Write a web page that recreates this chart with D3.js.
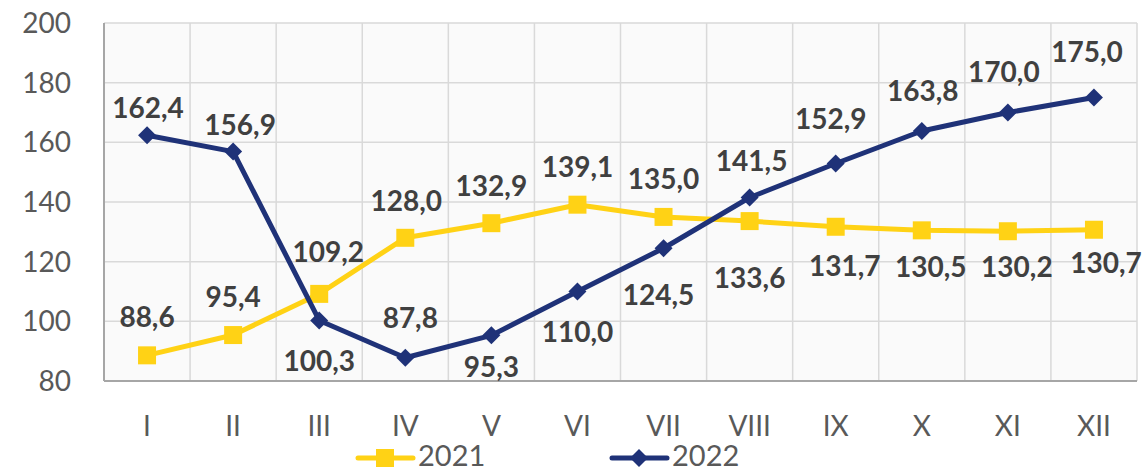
<!DOCTYPE html>
<html>
<head>
<meta charset="utf-8">
<script src="https://cdn.jsdelivr.net/npm/d3@7"></script>
<style>
  body { margin: 0; background: #fff; }
  text { font-family: Lato, "Open Sans", sans-serif; }
</style>
</head>
<body>
<div id="chart"></div>
<script>
// data
const months = ["I", "II", "III", "IV", "V", "VI", "VII", "VIII", "IX", "X", "XI", "XII"];
const values2021 = [88.6, 95.4, 109.2, 128.0, 132.9, 139.1, 135.0, 133.6, 131.7, 130.5, 130.2, 130.7];
const values2022 = [162.4, 156.9, 100.3, 87.8, 95.3, 110.0, 124.5, 141.5, 152.9, 163.8, 170.0, 175.0];
const yTicks = [80, 100, 120, 140, 160, 180, 200];

// label nudges (pixels from marker: dx, baseline dy)
const nudge2021 = [[0,-28],[0,-28],[9,-32],[1,-27],[0,-27],[0,-28],[0,-28],[0,67],[9,49],[9,47],[9,46],[12,43]];
const nudge2022 = [[1,-17],[7,-17],[0,51],[5,-30],[0,42],[0,50],[-5,57],[2,-27],[-5,-35],[1,-30],[-4,-31],[-7,-36]];

let W = 1145, H = 473;
let margin = { top: 23, left: 104, right: 8, bottom: 92 },
  width = W - margin.left - margin.right,
  height = H - margin.top - margin.bottom;

let svg = d3.select('#chart')
  .append('svg')
  .attr('width', W)
  .attr('height', H);

let g = svg.append('g')
  .attr('transform', `translate(${margin.left},${margin.top})`);

const x = d3.scaleBand()
  .domain(months)
  .range([0, width]);

const y = d3.scaleLinear()
  .domain([80, 200])
  .range([height, 0]);

const cx = d => x(d) + x.bandwidth() / 2;

// plot background
g.append('rect')
  .attr('width', width)
  .attr('height', height)
  .attr('fill', '#fafafa');

// horizontal grid
g.selectAll('.hgrid')
  .data(yTicks)
  .enter()
  .append('line')
  .attr('x1', 0).attr('x2', width)
  .attr('y1', d => y(d)).attr('y2', d => y(d))
  .attr('stroke', '#d9d9d9')
  .attr('stroke-width', 1.5);

// vertical grid at category edges
g.selectAll('.vgrid')
  .data(months.slice(1).concat(['end']))
  .enter()
  .append('line')
  .attr('x1', d => d === 'end' ? width : x(d))
  .attr('x2', d => d === 'end' ? width : x(d))
  .attr('y1', 0).attr('y2', height)
  .attr('stroke', '#d9d9d9')
  .attr('stroke-width', 1.5);

// axes lines
g.append('line')
  .attr('x1', 0).attr('x2', 0)
  .attr('y1', 0).attr('y2', height)
  .attr('stroke', '#a6a6a6').attr('stroke-width', 2);
g.append('line')
  .attr('x1', 0).attr('x2', width)
  .attr('y1', height).attr('y2', height)
  .attr('stroke', '#a6a6a6').attr('stroke-width', 2);

// y tick labels
g.selectAll('.ylab')
  .data(yTicks)
  .enter()
  .append('text')
  .attr('x', -33)
  .attr('y', d => y(d))
  .attr('dy', '0.36em')
  .attr('text-anchor', 'end')
  .attr('fill', '#595959')
  .style('font-size', '28px')
  .text(d => d);

// x tick labels
g.selectAll('.xlab')
  .data(months)
  .enter()
  .append('text')
  .attr('x', d => cx(d))
  .attr('y', height + 55)
  .attr('text-anchor', 'middle')
  .attr('fill', '#595959')
  .style('font-size', '28px')
  .text(d => d);

const line = d3.line()
  .x((d, i) => cx(months[i]))
  .y(d => y(d));

const fmt = v => d3.format('.1f')(v).replace('.', ',');

function drawSeries(vals, color, shape, nudges) {
  g.append('path')
    .datum(vals)
    .attr('fill', 'none')
    .attr('stroke', color)
    .attr('stroke-width', 5)
    .attr('stroke-linejoin', 'round')
    .attr('d', line);

  g.selectAll(null)
    .data(vals)
    .enter()
    .append('path')
    .attr('transform', (d, i) => `translate(${cx(months[i])},${y(d)})`)
    .attr('d', shape)
    .attr('fill', color);

  g.selectAll(null)
    .data(vals)
    .enter()
    .append('text')
    .attr('x', (d, i) => cx(months[i]) + nudges[i][0])
    .attr('y', (d, i) => y(d) + nudges[i][1])
    .attr('text-anchor', 'middle')
    .attr('fill', '#404040')
    .style('font-size', '28px')
    .style('font-weight', 'bold')
    .text(d => fmt(d));
}

const square = 'M-9,-9H9V9H-9Z';
const diamond = 'M0,-9L9,0L0,9L-9,0Z';
const yellow = '#ffd215', navy = '#1f3278';

drawSeries(values2021, yellow, square, nudge2021);
drawSeries(values2022, navy, diamond, nudge2022);

// legend
const legend = svg.append('g');
const items = [
  { name: '2021', color: yellow, shape: square, x: 358 },
  { name: '2022', color: navy, shape: diamond, x: 612 }
];
items.forEach(it => {
  legend.append('line')
    .attr('x1', it.x).attr('x2', it.x + 55)
    .attr('y1', 458).attr('y2', 458)
    .attr('stroke', it.color)
    .attr('stroke-width', 5)
    .attr('stroke-linecap', 'round');
  legend.append('path')
    .attr('transform', `translate(${it.x + 27},458)`)
    .attr('d', it.shape)
    .attr('fill', it.color);
  legend.append('text')
    .attr('x', it.x + 60)
    .attr('y', 466)
    .attr('fill', '#595959')
    .style('font-size', '29px')
    .text(it.name);
});
</script>
</body>
</html>
